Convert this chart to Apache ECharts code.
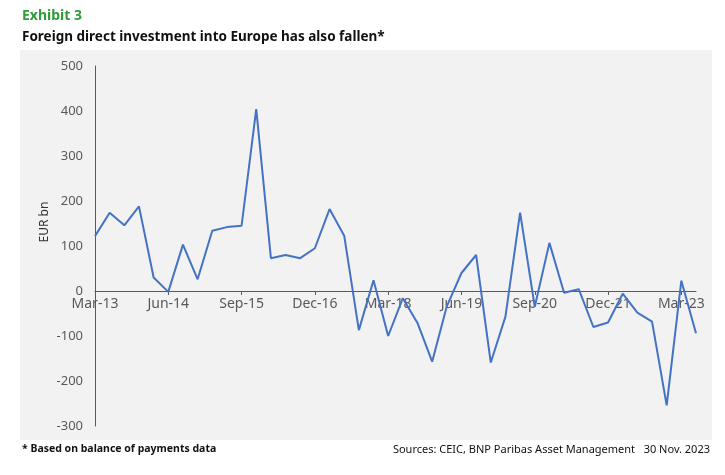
<!DOCTYPE html>
<html>
<head>
<meta charset="utf-8">
<script src="https://cdn.jsdelivr.net/npm/echarts@6/dist/echarts.min.js"></script>
<style>
html,body{margin:0;padding:0;background:#fff;}
#c{width:725px;height:475px;}
</style>
</head>
<body>
<div id="c"></div>
<script>
const categories = [
  'Mar-13','Jun-13','Sep-13','Dec-13',
  'Mar-14','Jun-14','Sep-14','Dec-14',
  'Mar-15','Jun-15','Sep-15','Dec-15',
  'Mar-16','Jun-16','Sep-16','Dec-16',
  'Mar-17','Jun-17','Sep-17','Dec-17',
  'Mar-18','Jun-18','Sep-18','Dec-18',
  'Mar-19','Jun-19','Sep-19','Dec-19',
  'Mar-20','Jun-20','Sep-20','Dec-20',
  'Mar-21','Jun-21','Sep-21','Dec-21',
  'Mar-22','Jun-22','Sep-22','Dec-22',
  'Mar-23','Jun-23'
];
const fdiValues = [
  122, 174, 146, 188,
  30, -2, 103, 26,
  134, 142, 145, 404,
  73, 80, 73, 95,
  182, 123, -87, 24,
  -100, -16, -71, -157,
  -34, 40, 80, -159,
  -57, 174, -35, 107,
  -4, 4, -80, -70,
  -6, -48, -68, -254,
  23, -94
];
const yTicks = { min: -300, max: 500, interval: 100 };

const gridTop = 66, gridBottom = 49, chartH = 475;
const gridHeight = chartH - gridTop - gridBottom;
// shift the category axis up so it sits on the zero line (labels included)
const zeroOffset = -gridHeight * (0 - yTicks.min) / (yTicks.max - yTicks.min);

const chart = echarts.init(document.getElementById('c'), null, {renderer: 'canvas'});
const font = 'Noto Sans';
chart.setOption({
  backgroundColor: '#ffffff',
  animation: false,
  graphic: [
    { type: 'rect', silent: true, z: -10,
      shape: { x: 20, y: 50, width: 692, height: 390 },
      style: { fill: '#f2f2f2' } },
    { type: 'text', left: 22, top: 9,
      style: { text: 'Exhibit 3', fill: '#2e9c38', font: 'bold 14px "Noto Sans"' } },
    { type: 'text', left: 22, top: 30,
      style: { text: 'Foreign direct investment into Europe has also fallen*', fill: '#111111', font: 'bold 13.5px "Noto Sans"' } },
    { type: 'text', x: 45, y: 222, rotation: Math.PI / 2,
      style: { text: 'EUR bn', fill: '#333333', font: '12px "Noto Sans"', align: 'center', verticalAlign: 'middle' } },
    { type: 'text', left: 22, top: 444,
      style: { text: '* Based on balance of payments data', fill: '#111111', font: 'bold 10.5px "Noto Sans"' } },
    { type: 'text', right: 15, top: 444,
      style: { text: 'Sources: CEIC, BNP Paribas Asset Management   30 Nov. 2023', fill: '#111111', font: '11px "Noto Sans"' } }
  ],
  grid: { left: 95, right: 29, top: gridTop, bottom: gridBottom, containLabel: false },
  xAxis: {
    type: 'category',
    data: categories,
    boundaryGap: false,
    offset: zeroOffset,
    axisLine: { onZero: false, lineStyle: { color: '#595959', width: 1 } },
    axisTick: { show: true, interval: 4, length: 4, lineStyle: { color: '#595959' } },
    axisLabel: { interval: 4, color: '#595959', fontSize: 14, fontFamily: font, margin: 6 },
    splitLine: { show: false }
  },
  yAxis: {
    type: 'value',
    min: yTicks.min, max: yTicks.max, interval: yTicks.interval,
    axisLine: { show: true, lineStyle: { color: '#595959', width: 1 } },
    axisTick: { show: false },
    axisLabel: { color: '#595959', fontSize: 13, fontFamily: font, margin: 12 },
    splitLine: { show: false }
  },
  series: [{
    type: 'line',
    data: fdiValues,
    showSymbol: false,
    symbol: 'none',
    lineStyle: { color: '#4472c4', width: 2 },
    z: 3
  }]
});
</script>
</body>
</html>
